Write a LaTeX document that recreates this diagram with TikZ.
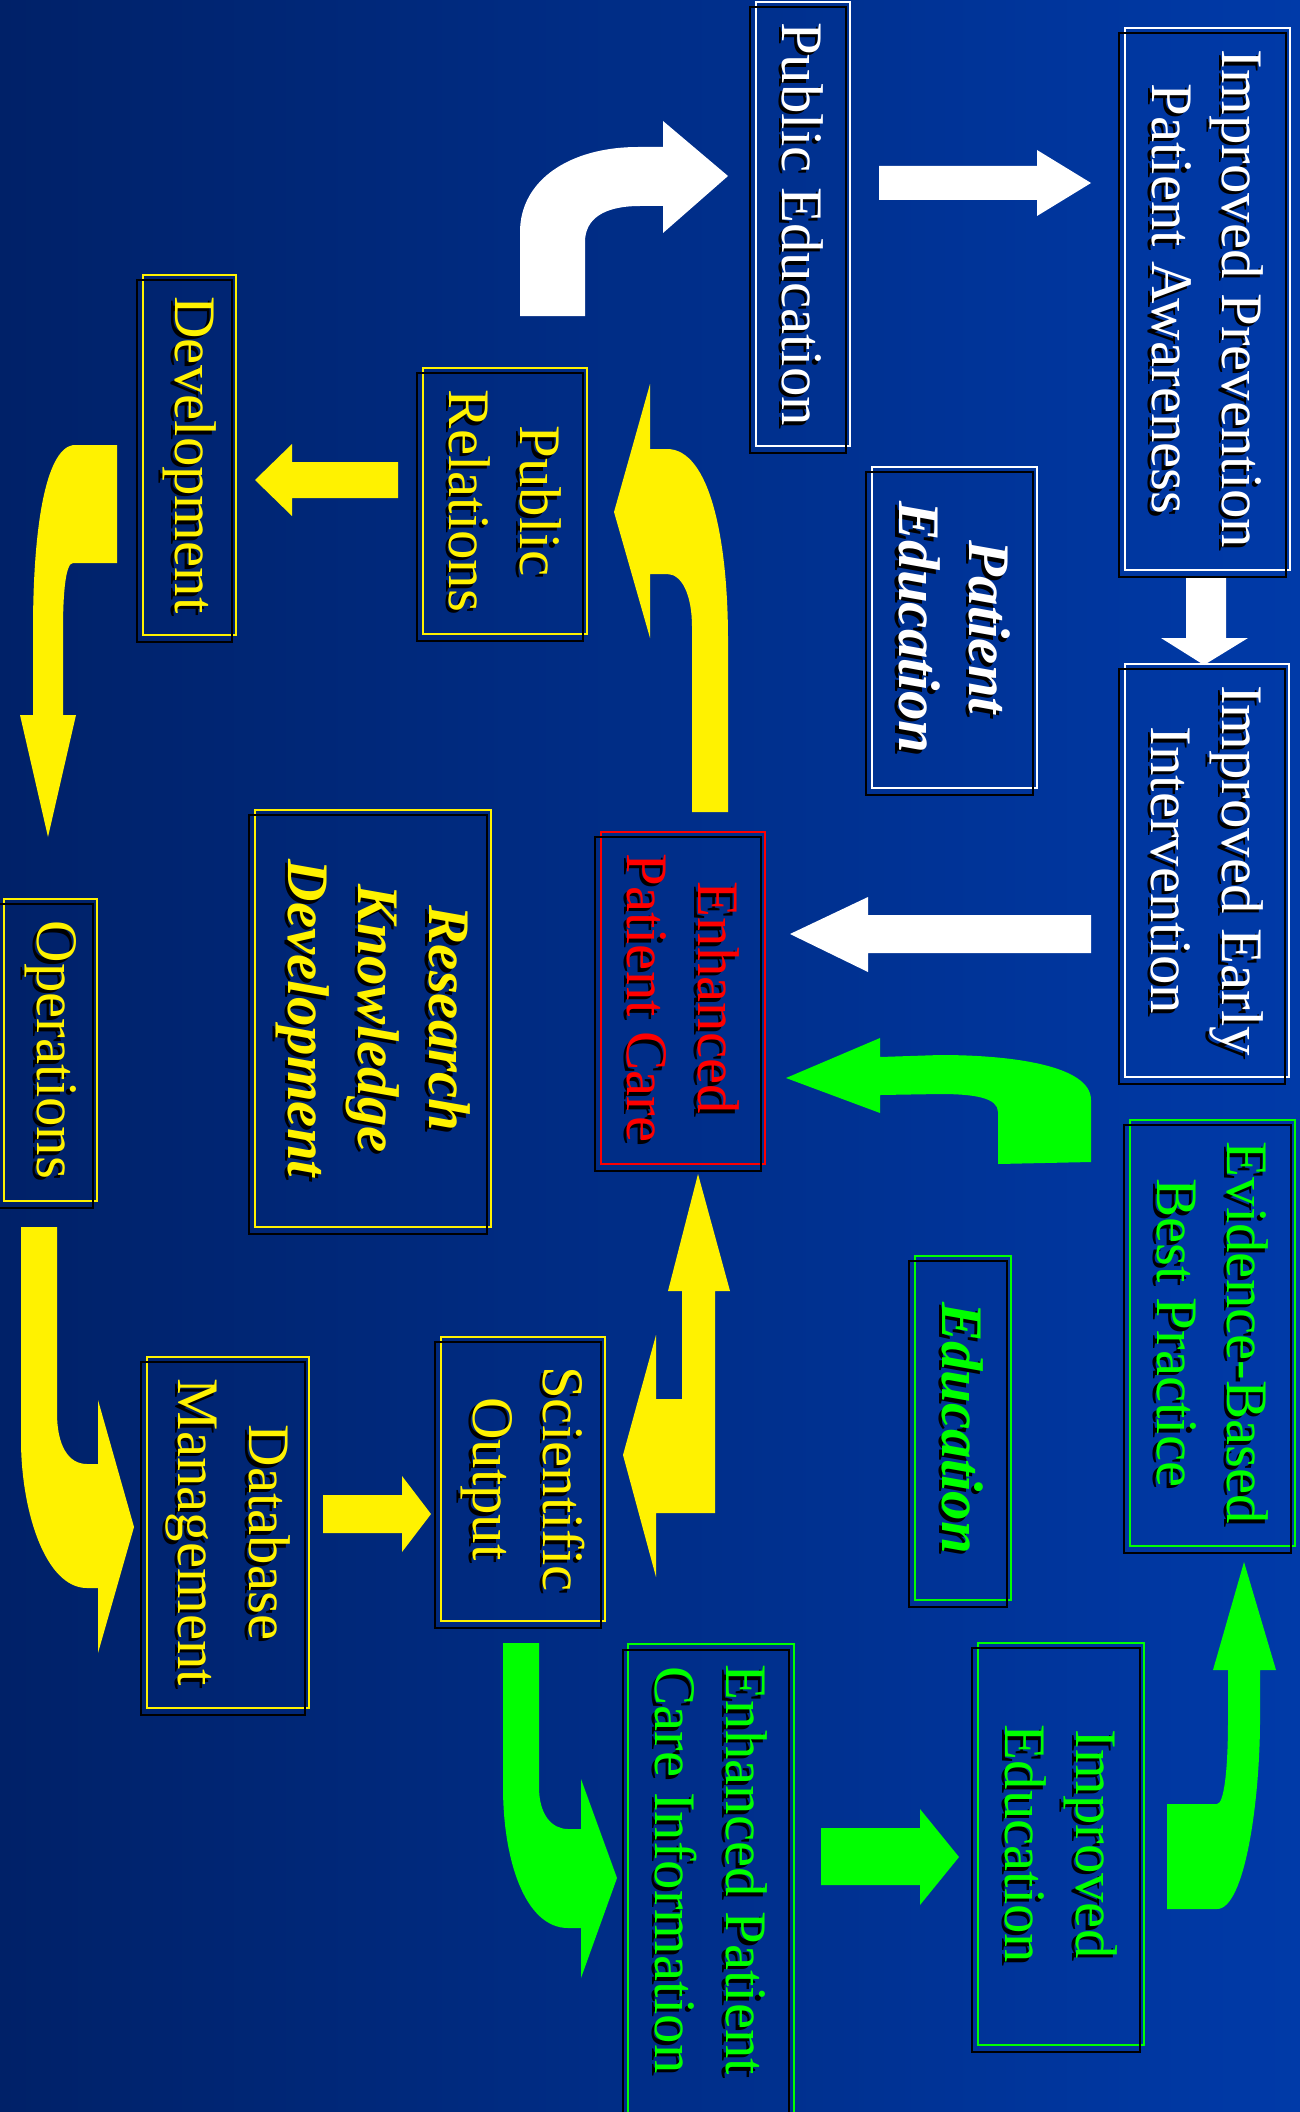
\documentclass[tikz,border=0pt]{standalone}
\usepackage{fontspec}
\setmainfont{Liberation Serif}
\usepackage{tikz}
\usepackage{xcolor}

\definecolor{bgleft}{RGB}{0,33,104}
\definecolor{bgright}{RGB}{0,58,168}

% text with a small black drop shadow
\newcommand{\shtxt}[1]{\leavevmode\rlap{\hspace*{0.07cm}\smash{\raisebox{-0.07cm}{\color{black}#1}}}#1}

\begin{document}
\begin{tikzpicture}[x=0.02cm, y=-0.02cm,
    box/.style={rotate=-90, draw=#1, text=#1, line width=1.1pt, inner sep=0pt, align=center, font=\fontsize{33.5}{40}\selectfont},
    boxbi/.style={box=#1, font=\fontsize{33.5}{40}\selectfont\bfseries\itshape},
    shadowline/.style={draw=black, line width=1.1pt}]
                \useasboundingbox (0,0) rectangle (1300,2112);
                \shade[left color=bgleft, right color=bgright] (0,0) rectangle (1300,2112);
                \clip (0,0) rectangle (1300,2112);

                % white arrows
                \fill[white] (520,316) -- (520,232) .. controls (520,180) and (570,147) .. (638,147) -- (663,147) -- (663,121) -- (728,176) -- (663,233) -- (663,206) -- (640,206) .. controls (602,206) and (585,220) .. (585,242) -- (585,316) -- cycle;
                \fill[white] (879,166) -- (1037,166) -- (1037,150) -- (1091,183) -- (1037,216) -- (1037,200) -- (879,200) -- cycle;
                \fill[white] (1186,576) -- (1226,576) -- (1226,638) -- (1248,638) -- (1204,665) -- (1161,638) -- (1186,638) -- cycle;
                \fill[white] (1091,915) -- (868,915) -- (868,897) -- (790,934) -- (868,972) -- (868,953) -- (1091,953) -- cycle;

                % yellow arrows
                \fill[yellow] (692,812) -- (692,627) .. controls (692,595) and (682,574) .. (667,574) -- (650,574) -- (650,638) -- (614,512) -- (650,384) -- (650,449) -- (667,449) .. controls (710,449) and (728,540) .. (728,640) -- (728,812) -- cycle;
                \fill[yellow] (398,462) -- (292,462) -- (292,444) -- (255,480) -- (292,516) -- (292,498) -- (398,498) -- cycle;
                \fill[yellow] (117,445) -- (73,445) .. controls (45,450) and (33,530) .. (33,630) -- (33,715) -- (20,715) -- (48,837) -- (76,715) -- (63,715) -- (63,630) .. controls (63,590) and (66,563) .. (73,563) -- (117,563) -- cycle;
                \fill[yellow] (21,1227) -- (57,1227) -- (57,1413) .. controls (57,1445) and (68,1464) .. (87,1464) -- (98,1464) -- (98,1400) -- (134,1527) -- (98,1653) -- (98,1588) -- (87,1588) .. controls (45,1588) and (21,1510) .. (21,1440) -- cycle;
                \fill[yellow] (323,1495) -- (402,1495) -- (402,1476) -- (431,1514) -- (402,1552) -- (402,1533) -- (323,1533) -- cycle;
                \fill[yellow] (698,1174) -- (730,1291) -- (715,1291) -- (715,1513) -- (656,1513) -- (656,1577) -- (623,1455) -- (656,1335) -- (656,1399) -- (682,1399) -- (682,1291) -- (668,1291) -- cycle;

                % green arrows
                \fill[green] (503,1643) -- (539,1643) -- (539,1787) .. controls (539,1815) and (552,1829) .. (568,1829) -- (581,1829) -- (581,1779) -- (617,1878) -- (581,1978) -- (581,1928) -- (568,1928) .. controls (525,1928) and (503,1860) .. (503,1787) -- cycle;
                \fill[green] (821,1828) -- (920,1828) -- (920,1809) -- (959,1857) -- (920,1905) -- (920,1885) -- (821,1885) -- cycle;
                \fill[green] (1167,1909) -- (1217,1909) .. controls (1245,1909) and (1260,1800) .. (1260,1720) -- (1260,1670) -- (1276,1670) -- (1244,1562) -- (1213,1670) -- (1228,1670) -- (1228,1720) .. controls (1228,1770) and (1224,1804) .. (1217,1804) -- (1167,1804) -- cycle;
                \fill[green] (998,1164) -- (1091,1162) -- (1091,1100) .. controls (1091,1065) and (1010,1055) .. (940,1055) -- (880,1057) -- (880,1038) -- (786,1078) -- (880,1113) -- (880,1095) -- (940,1094) .. controls (975,1094) and (998,1098) .. (998,1112) -- cycle;

                % boxes
                \node[box=white, minimum width=8.88cm, minimum height=1.88cm] (pubedu) at (803,224) {\shtxt{Public Education}};
                \node[box=white, minimum width=10.84cm, minimum height=3.3cm] (prevent) at (1207.5,299) {\shtxt{Improved Prevention}\\\shtxt{Patient Awareness}};
                \node[boxbi=white, minimum width=6.42cm, minimum height=3.3cm] (patedu) at (954.5,627.5) {\shtxt{Patient}\\\shtxt{Education}};
                \node[box=white, minimum width=8.26cm, minimum height=3.28cm] (early) at (1207,870.5) {\shtxt{Improved Early}\\\shtxt{Intervention}};
                \node[box=red, minimum width=6.64cm, minimum height=3.28cm] (care) at (683,998) {\shtxt{Enhanced}\\\shtxt{Patient Care}};
                \node[box=green, minimum width=8.52cm, minimum height=3.3cm] (evidence) at (1212.5,1333) {\shtxt{Evidence-Based}\\\shtxt{Best Practice}};
                \node[boxbi=green, minimum width=6.88cm, minimum height=1.92cm] (educ) at (963,1428) {\shtxt{Education}};
                \node[box=green, minimum width=8.04cm, minimum height=3.32cm] (impedu) at (1061,1844) {\shtxt{Improved}\\\shtxt{Education}};
                \node[box=yellow, minimum width=5.68cm, minimum height=3.28cm] (sciout) at (523,1479) {\shtxt{Scientific}\\\shtxt{Output}};
                \node[box=yellow, minimum width=7.02cm, minimum height=3.24cm] (dbman) at (228,1532.5) {\shtxt{Database}\\\shtxt{Management}};
                \node[boxbi=yellow, minimum width=8.34cm, minimum height=4.72cm] (research) at (373,1018.5) {\shtxt{Research}\\\shtxt{Knowledge}\\\shtxt{Development}};
                \node[box=yellow, minimum width=6.04cm, minimum height=1.86cm] (operations) at (50.5,1050) {\shtxt{Operations}};
                \node[box=yellow, minimum width=7.2cm, minimum height=1.86cm] (develop) at (189.5,455) {\shtxt{Development}};
                \node[box=yellow, minimum width=5.32cm, minimum height=3.28cm] (pubrel) at (505,501) {\shtxt{Public}\\\shtxt{Relations}};
                \draw[green, line width=1.1pt] (628,1644) rectangle (794,2140);
                \node[box=green, draw=none] (careinfo) at (711,1870) {\shtxt{Enhanced Patient}\\\shtxt{Care Information}};

                % black frame shadows
                \foreach \bx in {pubedu, prevent, patedu, early, care, evidence, educ, impedu, sciout, dbman, research, operations, develop, pubrel}
                    \draw[shadowline] ([shift={(-5,6)}]\bx.north west) rectangle ([shift={(-5,6)}]\bx.south east);
                \draw[shadowline] (623,1650) rectangle (789,2146);
            \end{tikzpicture}
\end{document}
